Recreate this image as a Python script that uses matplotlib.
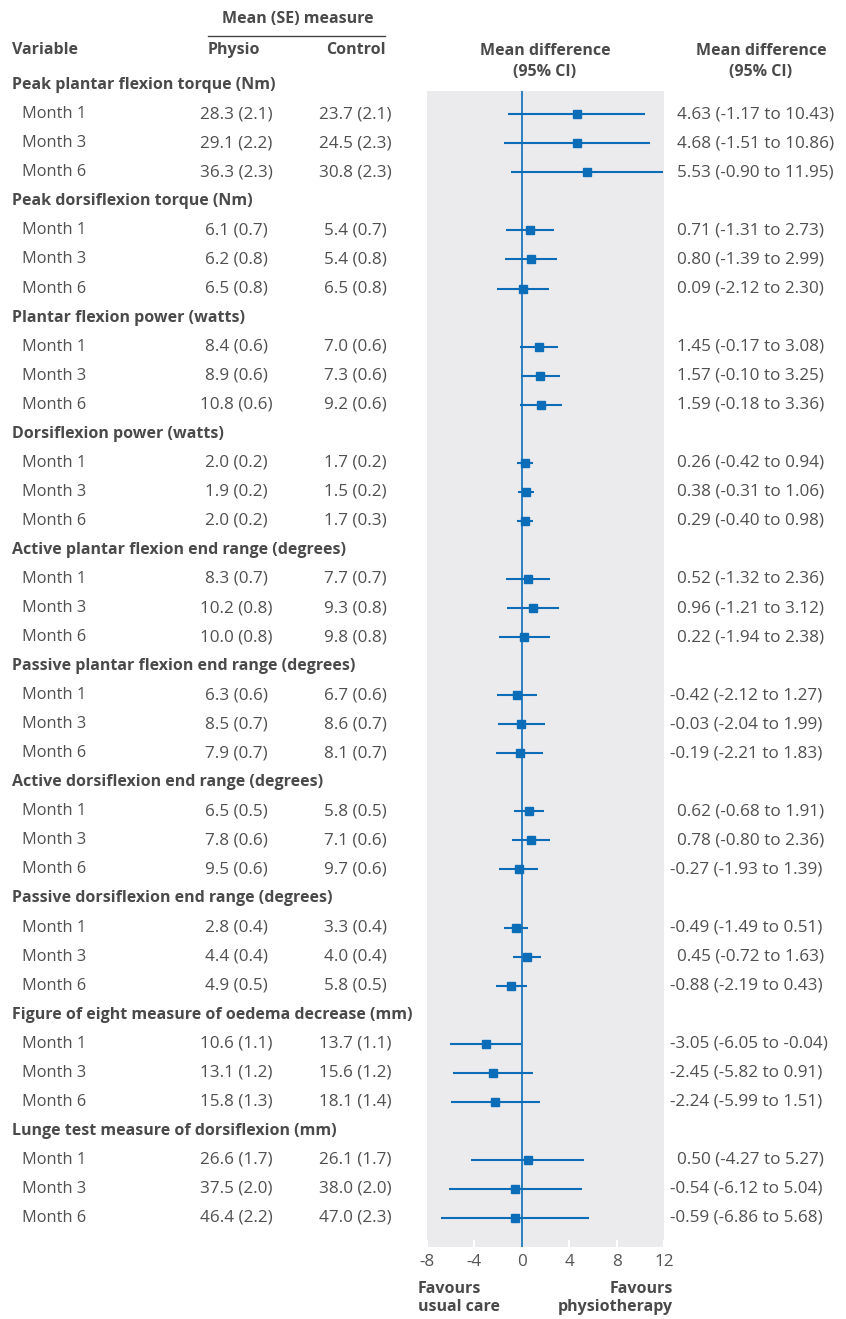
import numpy as np
import matplotlib.pyplot as plt
from matplotlib.transforms import blended_transform_factory

plt.rcParams['font.family'] = ['Open Sans', 'DejaVu Sans']

groups = ["Peak plantar flexion torque (Nm)", "Peak dorsiflexion torque (Nm)",
          "Plantar flexion power (watts)", "Dorsiflexion power (watts)",
          "Active plantar flexion end range (degrees)",
          "Passive plantar flexion end range (degrees)",
          "Active dorsiflexion end range (degrees)",
          "Passive dorsiflexion end range (degrees)",
          "Figure of eight measure of oedema decrease (mm)",
          "Lunge test measure of dorsiflexion (mm)"]
months = ["Month 1", "Month 3", "Month 6"]

physio_mean = [28.3, 29.1, 36.3, 6.1, 6.2, 6.5, 8.4, 8.9, 10.8, 2.0, 1.9, 2.0,
               8.3, 10.2, 10.0, 6.3, 8.5, 7.9, 6.5, 7.8, 9.5, 2.8, 4.4, 4.9,
               10.6, 13.1, 15.8, 26.6, 37.5, 46.4]
physio_se = [2.1, 2.2, 2.3, 0.7, 0.8, 0.8, 0.6, 0.6, 0.6, 0.2, 0.2, 0.2,
             0.7, 0.8, 0.8, 0.6, 0.7, 0.7, 0.5, 0.6, 0.6, 0.4, 0.4, 0.5,
             1.1, 1.2, 1.3, 1.7, 2.0, 2.2]
control_mean = [23.7, 24.5, 30.8, 5.4, 5.4, 6.5, 7.0, 7.3, 9.2, 1.7, 1.5, 1.7,
                7.7, 9.3, 9.8, 6.7, 8.6, 8.1, 5.8, 7.1, 9.7, 3.3, 4.0, 5.8,
                13.7, 15.6, 18.1, 26.1, 38.0, 47.0]
control_se = [2.1, 2.3, 2.3, 0.7, 0.8, 0.8, 0.6, 0.6, 0.6, 0.2, 0.2, 0.3,
              0.7, 0.8, 0.8, 0.6, 0.7, 0.7, 0.5, 0.6, 0.6, 0.4, 0.4, 0.5,
              1.1, 1.2, 1.4, 1.7, 2.0, 2.3]
md = [4.63, 4.68, 5.53, 0.71, 0.80, 0.09, 1.45, 1.57, 1.59, 0.26, 0.38, 0.29,
      0.52, 0.96, 0.22, -0.42, -0.03, -0.19, 0.62, 0.78, -0.27, -0.49, 0.45, -0.88,
      -3.05, -2.45, -2.24, 0.50, -0.54, -0.59]
md_lo = [-1.17, -1.51, -0.90, -1.31, -1.39, -2.12, -0.17, -0.10, -0.18, -0.42, -0.31, -0.40,
         -1.32, -1.21, -1.94, -2.12, -2.04, -2.21, -0.68, -0.80, -1.93, -1.49, -0.72, -2.19,
         -6.05, -5.82, -5.99, -4.27, -6.12, -6.86]
md_hi = [10.43, 10.86, 11.95, 2.73, 2.99, 2.30, 3.08, 3.25, 3.36, 0.94, 1.06, 0.98,
         2.36, 3.12, 2.38, 1.27, 1.99, 1.83, 1.91, 2.36, 1.39, 0.51, 1.63, 0.43,
         -0.04, 0.91, 1.51, 5.27, 5.04, 5.68]
xticks = [-8, -4, 0, 4, 8, 12]

W, H = 846, 1319
TXT = '#505050'
HDR = '#4a4a4a'
BLUE = '#0b6cb8'
FS = 11.5     # bold headers
FSM = 11.8    # month labels
FSN = 12.3    # number columns


def px(x):
    return x / W


def py(y):
    return 1 - y / H


fig = plt.figure(figsize=(W / 100, H / 100), dpi=100)
ax = fig.add_axes([px(427), py(1247), px(664) - px(427), py(91) - py(1247)])
ax.set_facecolor('#ebebee')
for s in ax.spines.values():
    s.set_visible(False)
ax.set_xlim(-8, 12)
ax.set_ylim(40, 0.2)
ax.set_yticks([])
ax.set_xticks(xticks)
ax.set_xticklabels([str(t) for t in xticks], fontsize=FSN, color='#555555')
ax.tick_params(axis='x', direction='in', length=5, width=1.5, color='white', pad=5)

ax.axvline(0, color=BLUE, lw=1.2, zorder=2)

rows = []
for g in range(len(groups)):
    for m in range(3):
        rows.append(4 * g + m + 1)
rows = np.array(rows)

ax.hlines(rows, md_lo, md_hi, color=BLUE, lw=1.5, zorder=3)
ax.plot(md, rows, 's', color=BLUE, ms=5.8, zorder=4)

tr = blended_transform_factory(fig.transFigure, ax.transData)

# column headers
fig.text(px(298), py(19), "Mean (SE) measure", ha='center', va='center',
         fontsize=FS, fontweight='bold', color=HDR)
fig.add_artist(plt.Line2D([px(208), px(385)], [py(36), py(36)], color='#444444', lw=1.0))
fig.text(px(12), py(50), "Variable", ha='left', va='center', fontsize=FS,
         fontweight='bold', color=HDR)
fig.text(px(234), py(50), "Physio", ha='center', va='center', fontsize=FS,
         fontweight='bold', color=HDR)
fig.text(px(356), py(50), "Control", ha='center', va='center', fontsize=FS,
         fontweight='bold', color=HDR)
fig.text(px(545), py(61.5), "Mean difference\n(95% CI)", ha='center', va='center',
         fontsize=FS, fontweight='bold', color=HDR, linespacing=1.4)
fig.text(px(761), py(61.5), "Mean difference\n(95% CI)", ha='center', va='center',
         fontsize=FS, fontweight='bold', color=HDR, linespacing=1.4)

for g, name in enumerate(groups):
    ax.text(px(12), 4 * g, name, transform=tr, ha='left', va='center',
            fontsize=FS, fontweight='bold', color=HDR, clip_on=False)

for i, r in enumerate(rows):
    ax.text(px(22), r, months[i % 3], transform=tr, ha='left', va='center',
            fontsize=FSM, color=TXT, clip_on=False)
    ax.text(px(236), r, f"{physio_mean[i]:.1f} ({physio_se[i]:.1f})", transform=tr,
            ha='center', va='center', fontsize=FSN, color=TXT, clip_on=False)
    ax.text(px(355), r, f"{control_mean[i]:.1f} ({control_se[i]:.1f})", transform=tr,
            ha='center', va='center', fontsize=FSN, color=TXT, clip_on=False)
    xs = 670 if md[i] < 0 else 677
    ax.text(px(xs), r, f"{md[i]:.2f} ({md_lo[i]:.2f} to {md_hi[i]:.2f})", transform=tr,
            ha='left', va='center', fontsize=FSN, color=TXT, clip_on=False)

fig.text(px(418), py(1298), "Favours\nusual care", ha='left', va='center',
         fontsize=FS, fontweight='bold', color=HDR, linespacing=1.2)
fig.text(px(673), py(1298), "Favours\nphysiotherapy", ha='right', va='center',
         fontsize=FS, fontweight='bold', color=HDR, linespacing=1.2, multialignment='right')

fig.savefig('out.png', dpi=100)
